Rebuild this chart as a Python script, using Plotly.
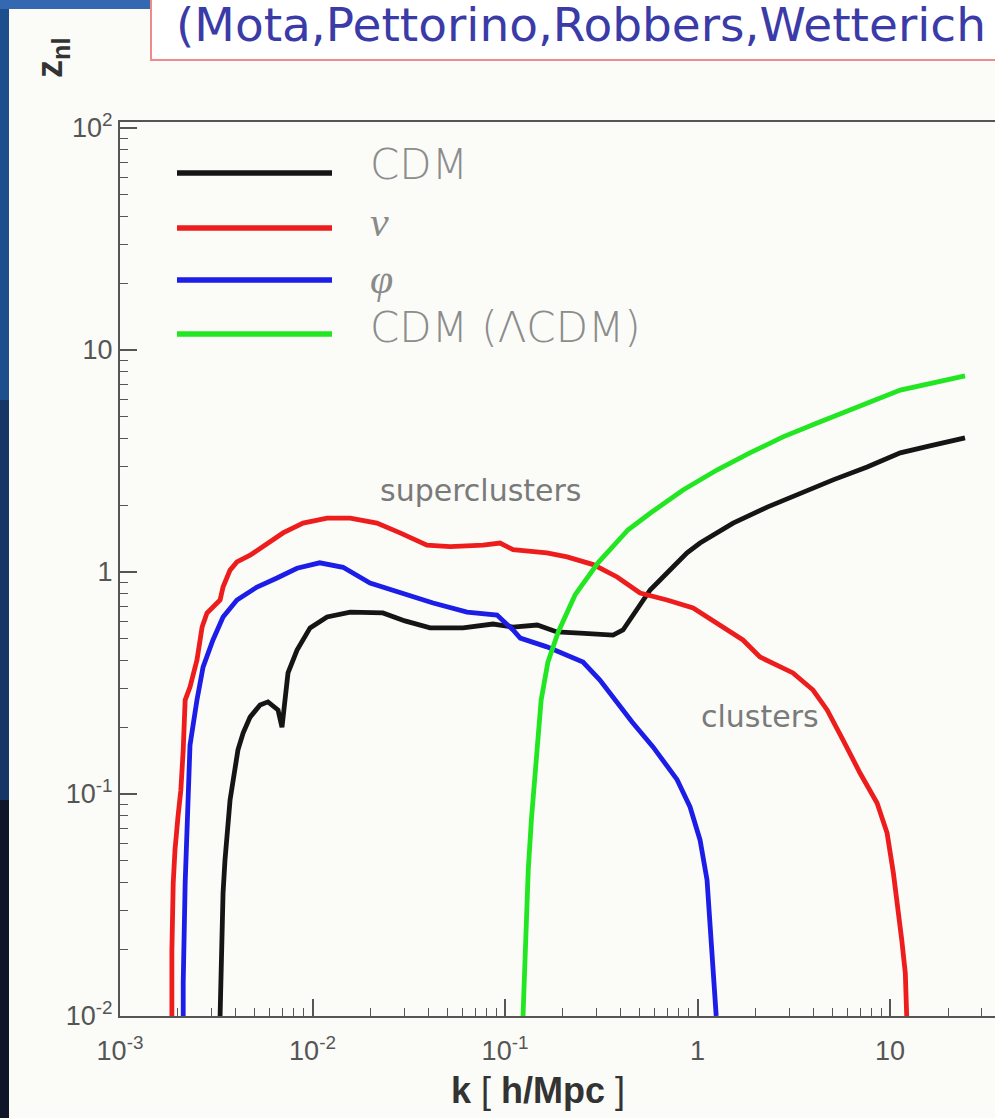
import plotly.graph_objects as go

# ---------------- data ----------------
k_cdm = [0.00331, 0.00335, 0.00343, 0.00351, 0.00373, 0.00410, 0.00436, 0.00474, 0.00534, 0.00587,
         0.00662, 0.00694, 0.00720, 0.00746, 0.00831, 0.00971, 0.0119, 0.0157, 0.0232, 0.0302,
         0.0408, 0.0605, 0.0866, 0.110, 0.147, 0.186, 0.245, 0.364, 0.410, 0.503,
         0.567, 0.694, 0.882, 1.03, 1.53, 2.30, 3.41, 5.06, 7.60, 11.3, 16.1, 24.5]
z_cdm = [0.0100, 0.0179, 0.0358, 0.0504, 0.0940, 0.158, 0.188, 0.222, 0.252, 0.260,
         0.239, 0.200, 0.265, 0.351, 0.445, 0.560, 0.627, 0.660, 0.654, 0.602,
         0.560, 0.560, 0.583, 0.565, 0.577, 0.537, 0.531, 0.520, 0.548, 0.710,
         0.830, 0.990, 1.22, 1.35, 1.66, 1.96, 2.27, 2.60, 2.97, 3.44, 3.70, 4.02]

k_nu = [0.00186, 0.00186, 0.00189, 0.00193, 0.00200, 0.00207, 0.00213, 0.00215, 0.00218, 0.00231,
        0.00251, 0.00267, 0.00283, 0.00331, 0.00343, 0.00373, 0.00405, 0.00474, 0.00580, 0.00703,
        0.00893, 0.0119, 0.0157, 0.0216, 0.0285, 0.0393, 0.0518, 0.0769, 0.0942, 0.110,
        0.165, 0.210, 0.287, 0.382, 0.503, 0.694, 0.948, 1.26, 1.72, 2.11,
        3.13, 3.98, 4.71, 5.70, 6.99, 8.56, 9.65, 10.4, 11.0, 11.5, 12.0, 12.2, 12.2]
z_nu = [0.0100, 0.0198, 0.0397, 0.0559, 0.0787, 0.104, 0.158, 0.205, 0.265, 0.303,
        0.401, 0.565, 0.654, 0.748, 0.856, 1.02, 1.11, 1.19, 1.35, 1.50,
        1.66, 1.75, 1.75, 1.66, 1.50, 1.32, 1.30, 1.32, 1.35, 1.26,
        1.22, 1.17, 1.08, 0.950, 0.804, 0.748, 0.688, 0.589, 0.494, 0.414,
        0.351, 0.294, 0.239, 0.175, 0.124, 0.0911, 0.0667, 0.0441, 0.0310, 0.0220, 0.0156, 0.0110, 0.0100]

k_phi = [0.00213, 0.00213, 0.00218, 0.00223, 0.00226, 0.00231, 0.00251, 0.00270, 0.00304, 0.00343,
         0.00405, 0.00515, 0.00654, 0.00831, 0.0109, 0.0144, 0.0199, 0.0285, 0.0423, 0.0635,
         0.0909, 0.110, 0.120, 0.165, 0.254, 0.311, 0.382, 0.457, 0.587, 0.783,
         0.914, 1.03, 1.12, 1.16, 1.20, 1.23, 1.25]
z_phi = [0.0100, 0.0141, 0.0397, 0.0787, 0.112, 0.166, 0.265, 0.373, 0.494, 0.627,
         0.748, 0.856, 0.940, 1.04, 1.10, 1.05, 0.892, 0.804, 0.725, 0.660,
         0.640, 0.548, 0.504, 0.460, 0.393, 0.326, 0.257, 0.211, 0.163, 0.116,
         0.0874, 0.0621, 0.0410, 0.0262, 0.0184, 0.0131, 0.0100]

k_lcdm = [0.124, 0.126, 0.129, 0.132, 0.137, 0.142, 0.147, 0.154, 0.167, 0.189,
          0.231, 0.304, 0.436, 0.567, 0.841, 1.26, 1.87, 2.78, 4.18, 6.20, 11.3, 24.5]
z_lcdm = [0.0100, 0.0161, 0.0271, 0.0455, 0.0763, 0.116, 0.175, 0.265, 0.393, 0.537,
          0.788, 1.10, 1.55, 1.84, 2.34, 2.88, 3.44, 4.06, 4.69, 5.37, 6.60, 7.64]

series_names = ["CDM", "ν", "φ", "CDM (ΛCDM)"]
legend_labels = ["CDM", "<i>ν</i>", "<i>φ</i>", "CDM (ΛCDM)"]
series_colors = ["#151515", "#ee1d1d", "#1d1de8", "#22e622"]

x_tickvals = [1e-3, 1e-2, 1e-1, 1, 10]
x_ticktext = ["10<sup>-3</sup>", "10<sup>-2</sup>", "10<sup>-1</sup>", "1", "10"]
y_tickvals = [1e-2, 1e-1, 1, 10, 100]
y_ticktext = ["10<sup>-2</sup>", "10<sup>-1</sup>", "1", "10", "10<sup>2</sup>"]
x_minor = [m * 10.0 ** e for e in range(-3, 2) for m in range(2, 10)]
y_minor = [m * 10.0 ** e for e in range(-2, 2) for m in range(2, 10)]

title_text = "(Mota,Pettorino,Robbers,Wetterich '08)"
x_title = "<b>k</b> [ <b>h/Mpc</b> ]"
y_title = "<b>z<sub>nl</sub></b>"
note_super = "superclusters"
note_clusters = "clusters"

# ---------------- layout geometry ----------------
W, H = 995, 1118
ML, MR, MT, MB = 120, 0, 122, 102
PW, PH = W - ML - MR, H - MT - MB


def px(x):
    return (x - ML) / PW


def py(y):
    return (H - MB - y) / PH


BG = "#fbfcf8"

fig = go.Figure()
for kx, zy, nm, col in zip([k_cdm, k_nu, k_phi, k_lcdm], [z_cdm, z_nu, z_phi, z_lcdm],
                            series_names, series_colors):
    fig.add_trace(go.Scatter(x=kx, y=zy, mode="lines", name=nm, showlegend=False,
                             line=dict(color=col, width=4.8)))

shapes = []
annotations = []

# slide background pieces
shapes.append(dict(type="rect", xref="paper", yref="paper", x0=px(0), x1=px(9), y0=py(0), y1=py(400),
                   fillcolor="#1d4e8e", line=dict(width=0), layer="above"))
shapes.append(dict(type="rect", xref="paper", yref="paper", x0=px(0), x1=px(9), y0=py(400), y1=py(800),
                   fillcolor="#163766", line=dict(width=0), layer="above"))
shapes.append(dict(type="rect", xref="paper", yref="paper", x0=px(0), x1=px(9), y0=py(800), y1=py(H),
                   fillcolor="#10162a", line=dict(width=0), layer="above"))
shapes.append(dict(type="rect", xref="paper", yref="paper", x0=px(0), x1=px(152), y0=py(0), y1=py(9),
                   fillcolor="#3468b0", line=dict(width=0), layer="above"))
# title box
shapes.append(dict(type="rect", xref="paper", yref="paper", x0=px(151), x1=px(W + 10), y0=py(60), y1=py(-10),
                   fillcolor="#ffffff", line=dict(color="#ee8a8a", width=2), layer="above"))
annotations.append(dict(text=title_text, xref="paper", yref="paper", x=px(174), y=py(25),
                        xanchor="left", yanchor="middle", showarrow=False,
                        font=dict(family="DejaVu Sans", size=47, color="#3b3ba8")))

# legend drawn by hand
legend_y_line = [173, 228, 280, 334]
legend_y_text = [164, 222, 279, 327]
for lab, col, yl, yt in zip(legend_labels, series_colors, legend_y_line, legend_y_text):
    shapes.append(dict(type="line", xref="paper", yref="paper", x0=px(177), x1=px(332), y0=py(yl), y1=py(yl),
                       line=dict(color=col, width=5.5)))
    if "<i>" in lab:
        fnt = dict(family="Liberation Serif", size=42, color="#8a8a8a")
    else:
        fnt = dict(family="DejaVu Sans", size=42, color="#8c8c8c", weight=300)
    annotations.append(dict(text=lab, xref="paper", yref="paper", x=px(368), y=py(yt),
                            xanchor="left", yanchor="middle", showarrow=False, font=fnt))

annotations.append(dict(text=note_super, xref="paper", yref="paper", x=px(480), y=py(490),
                        xanchor="center", yanchor="middle", showarrow=False,
                        font=dict(family="DejaVu Sans", size=30, color="#7a7a7a")))
annotations.append(dict(text=note_clusters, xref="paper", yref="paper", x=px(760), y=py(716),
                        xanchor="center", yanchor="middle", showarrow=False,
                        font=dict(family="DejaVu Sans", size=30, color="#7a7a7a")))

# axis titles
annotations.append(dict(text=x_title, xref="paper", yref="paper", x=px(538), y=py(1090),
                        xanchor="center", yanchor="middle", showarrow=False,
                        font=dict(family="Liberation Sans", size=36, color="#333333")))
annotations.append(dict(text=y_title, xref="paper", yref="paper", x=px(52), y=py(58),
                        xanchor="center", yanchor="middle", showarrow=False, textangle=-90,
                        font=dict(family="Liberation Sans", size=36, color="#333333")))

axis_common = dict(showline=True, linecolor="#555555", linewidth=2, showgrid=False, zeroline=False,
                   ticks="inside", ticklen=17, tickwidth=1.5, tickcolor="#555555",
                   tickfont=dict(family="Liberation Sans", size=27, color="#555555"))

fig.update_layout(
    width=W, height=H, autosize=False,
    margin=dict(l=ML, r=MR, t=MT, b=MB),
    paper_bgcolor=BG, plot_bgcolor=BG,
    shapes=shapes, annotations=annotations,
    xaxis=dict(type="log", range=[-3, 1.545], tickmode="array", tickvals=x_tickvals, ticktext=x_ticktext,
               mirror=True, ticklabelstandoff=10,
               minor=dict(tickmode="array", tickvals=x_minor, ticks="inside", ticklen=8,
                          tickwidth=1.2, tickcolor="#555555", showgrid=False),
               **axis_common),
    yaxis=dict(type="log", range=[-2, 2.027], tickmode="array", tickvals=y_tickvals, ticktext=y_ticktext,
               minor=dict(tickmode="array", tickvals=y_minor, ticks="inside", ticklen=8,
                          tickwidth=1.2, tickcolor="#555555", showgrid=False),
               **axis_common),
)

fig.write_html("out.html", config={"displayModeBar": False},
               post_script="document.body.style.margin='0';document.body.style.background='%s';" % BG)
